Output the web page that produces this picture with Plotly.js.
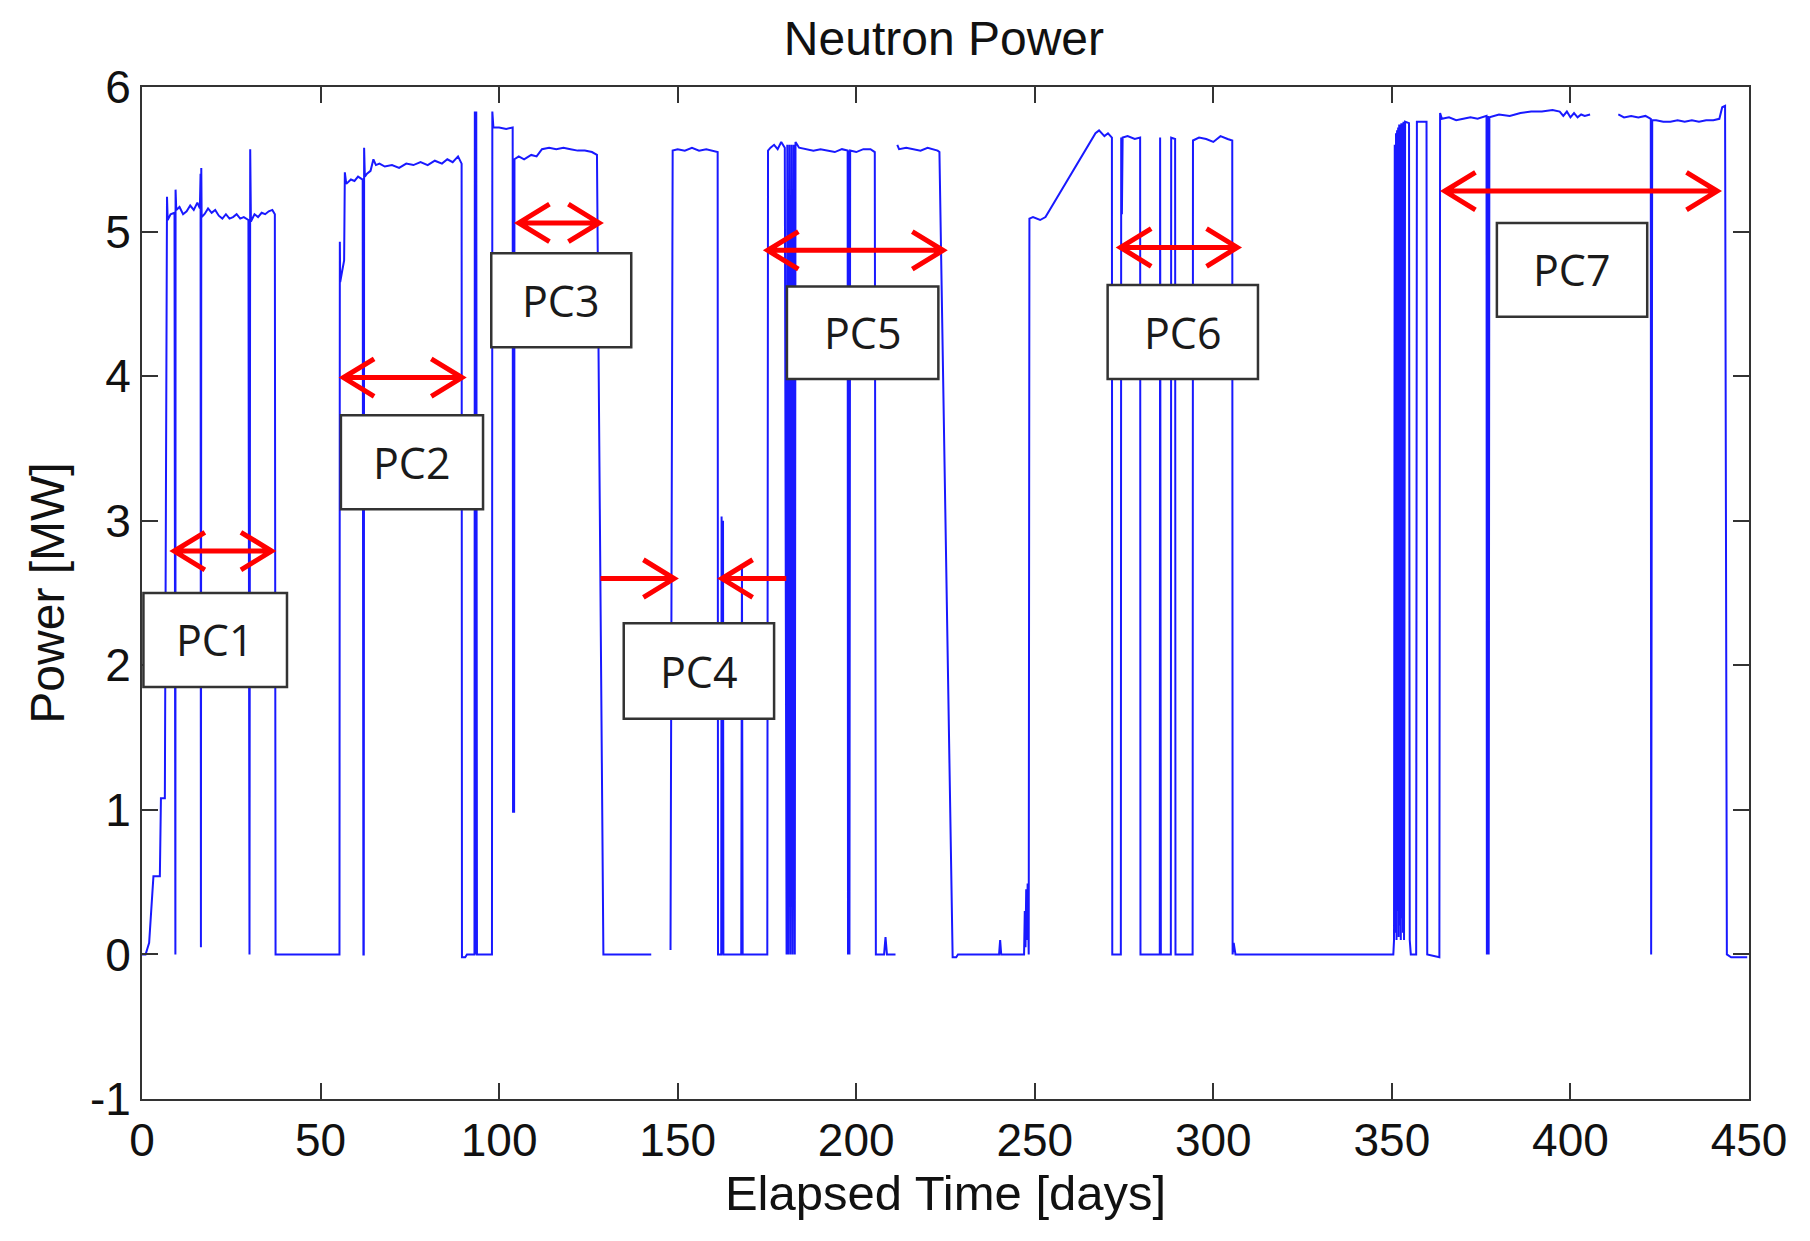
<!DOCTYPE html>
<html>
<head>
<meta charset="utf-8">
<script src="https://cdn.plot.ly/plotly-3.0.1.min.js"></script>
<style>html,body{margin:0;padding:0;background:#fff;}#chart{width:1810px;height:1241px;}</style>
</head>
<body>
<div id="chart"></div>
<script>
// ---- data (days, MW); gaps in the record are separate segments ----
const segADays = [0,1.0,2.0,3.2,5.0,5.3,6.4,6.7,6.8,6.9,7.0,7.2,8.0,9.1,9.2,9.35,9.4,9.6,10.5,11.5,12.5,13.5,14.5,15.5,16.2,16.3,16.4,16.5,16.6,16.7,17.5,18.5,19.5,20.5,21.5,22.5,23.5,24.5,25.5,26.5,27.5,28.5,29.8,30.1,30.3,30.5,31.5,32.5,33.5,34.5,35.5,36.5,37.2,37.4,55.3,55.4,55.5,56.0,56.6,56.8,57.2,58.5,59.5,60.5,61.8,62.0,62.1,62.2,62.4,63.0,64.0,64.8,65.5,66.5,68,70,72,74,76,78,80,82,84,85.5,87,88.5,89.5,89.6,90.5,91,93.1,93.2,93.4,93.6,93.8,98.0,98.1,98.4,100,102,103.8,103.9,104.0,104.2,104.3,105.5,107,109,110.5,112,114,116,118,120,122,124,126,127.4,129.2,142.6];
const segAMW   = [0,0,0.08,0.54,0.54,1.08,1.08,3.6,3.8,3.65,5.24,5.08,5.12,5.13,0,0,5.29,5.15,5.17,5.12,5.14,5.18,5.15,5.2,5.16,0.05,5.4,0.05,5.44,5.1,5.12,5.16,5.13,5.15,5.11,5.09,5.12,5.09,5.1,5.12,5.09,5.1,5.08,0,5.57,5.07,5.12,5.1,5.13,5.12,5.14,5.15,5.12,0,0,4.93,4.65,4.72,4.8,5.41,5.33,5.36,5.35,5.38,5.36,0,0,5.58,5.38,5.4,5.42,5.5,5.46,5.47,5.45,5.46,5.44,5.47,5.46,5.48,5.46,5.49,5.47,5.5,5.48,5.52,5.47,-0.02,-0.02,0,0,5.83,0,5.83,0,0,5.83,5.72,5.72,5.71,5.72,0.98,5.5,0.98,5.5,5.52,5.5,5.53,5.52,5.57,5.58,5.57,5.58,5.57,5.56,5.56,5.55,5.53,0,0];

const segBDays = [148.0,148.6,150,152,154,156,158,160,161.2,161.3,162.2,162.3,162.5,162.7,162.8,167.8,168.0,168.2,175.1,175.3,176,177,178,179,180,180.5,180.7,181,181.3,181.6,181.9,182.2,182.5,182.8,183,184,186,188,190,192,194,196,197.6,197.7,197.9,198.1,198.3,200,202,204,205.2,205.5,207.8,208.2,208.6,211.0];
const segBMW   = [0.03,5.56,5.57,5.56,5.58,5.56,5.57,5.56,5.55,0,0,3.03,0,3.0,0,0,2.7,0,0,5.56,5.58,5.6,5.57,5.62,5.58,0,5.6,0,5.6,0,5.6,0,5.6,0,5.62,5.58,5.57,5.56,5.57,5.56,5.55,5.57,5.56,0,5.56,0,5.56,5.55,5.57,5.57,5.55,0,0,0.12,0,0];

const segCDays = [211.5,212,214,216,218,220,222.8,223.3,227.0,228,228.5,240,240.3,240.6,247.0,247.2,247.4,247.6,247.8,248.0,248.3,248.5,249.5,251.5,253,267,268,269.5,270.5,271.6,271.7,274.1,274.2,274.4,274.6,276,278,279.5,279.6,285.0,285.1,285.3,288.1,288.2,289.3,289.4,294.2,294.3,296,298,300,302,304,305.3,305.4,305.7,306.2];
const segCMW   = [5.6,5.57,5.58,5.57,5.56,5.58,5.56,5.55,-0.02,-0.02,0,0,0.1,0,0,0.3,0.05,0.45,0.1,0.49,0,5.09,5.1,5.08,5.1,5.68,5.7,5.66,5.68,5.65,0,0,5.65,5.12,5.65,5.66,5.64,5.65,0,0,5.65,0,0,5.65,5.64,0,0,5.63,5.65,5.64,5.62,5.66,5.64,5.63,0,0.08,0];

const segC2Days = [350.4,350.6,350.8,351.0,351.15,351.3,351.45,351.6,351.75,351.9,352.05,352.2,352.35,352.5,352.65,352.8,352.95,353.1,353.25,353.4,353.55,353.7,354.8,355.0,355.3,356.8,357.0,359.7,359.9,363.3,363.5,364,366,368,370,372,374,376.5,376.6,376.9,377.1,377.3,380,383,386,389,392,395,397,398,399,400,401,402,403,404,405.5];
const segC2MW   = [0,0.1,5.6,0.15,5.68,0.1,5.7,0.3,5.72,0.12,5.74,0.2,5.74,0.1,5.75,0.25,5.75,0.15,5.76,0.1,5.75,5.76,5.75,0.1,0,0,5.76,5.76,0,-0.02,5.82,5.78,5.79,5.77,5.78,5.79,5.78,5.8,0,5.8,0,5.79,5.81,5.8,5.82,5.83,5.83,5.84,5.83,5.8,5.83,5.79,5.82,5.79,5.81,5.8,5.81];

const segDDays = [413.4,415,417,419,421,422.5,422.6,422.9,424,426,428,430,432,434,436,438,440,441.7,442.5,443.3,443.8,445,448,449.5];
const segDMW   = [5.81,5.79,5.8,5.79,5.8,5.78,0,5.77,5.77,5.76,5.76,5.77,5.76,5.77,5.76,5.77,5.77,5.78,5.86,5.87,0,-0.02,-0.02,-0.02];

// ---- axis ticks ----
const xTicks = [0,50,100,150,200,250,300,350,400,450];
const yTicks = [-1,0,1,2,3,4,5,6];
const yTickText = ['-1','0','1','2','3','4','5','6'];

// ---- annotation boxes and arrows (days, MW) ----
const pcLabels   = ['PC1','PC2','PC3','PC4','PC5','PC6','PC7'];
const boxLeft    = [0.4, 55.7, 97.8, 134.9, 180.6, 270.4, 379.4];
const boxRight   = [40.6, 95.5, 137.0, 177.0, 223.0, 312.5, 421.5];
const boxTop     = [2.50, 3.73, 4.85, 2.29, 4.62, 4.63, 5.06];
const boxBottom  = [1.85, 3.08, 4.20, 1.63, 3.98, 3.98, 4.41];
// double arrows: start, end, level
const arrowFrom  = [9.0, 56.4, 105.5, 175.2, 274.0, 364.8];
const arrowTo    = [36.3, 89.6, 128.0, 224.3, 306.7, 441.1];
const arrowLevel = [2.79, 3.99, 5.06, 4.87, 4.89, 5.28];
// single arrows (PC4): tail, tip, level
const oneTail  = [128.4, 180.4];
const oneTip   = [149.0, 162.4];
const oneLevel = [2.60, 2.60];

const xs = [].concat(segADays, [null], segBDays, [null], segCDays, segC2Days, [null], segDDays);
const ys = [].concat(segAMW,   [null], segBMW,   [null], segCMW,   segC2MW,   [null], segDMW);

const trace = {
  x: xs, y: ys, type: 'scatter', mode: 'lines',
  line: {color: 'rgb(25,25,255)', width: 2},
  connectgaps: false, hoverinfo: 'skip', showlegend: false
};

const HX = 8.6, HY = 0.13; // arrow head size in data units
function head(tipX, y, dir) { // dir: +1 pointing right, -1 pointing left
  const bx = tipX - dir * HX;
  return `M${bx},${y + HY} L${tipX},${y} L${bx},${y - HY}`;
}
const shapes = [];
const red = {color: 'rgb(255,0,0)', width: 5};
for (let i = 0; i < arrowFrom.length; i++) {
  const y = arrowLevel[i];
  shapes.push({type: 'path', xref: 'x', yref: 'y', layer: 'above', line: red,
    path: `M${arrowFrom[i]},${y} L${arrowTo[i]},${y} ` + head(arrowFrom[i], y, -1) + ' ' + head(arrowTo[i], y, 1)});
}
for (let i = 0; i < oneTail.length; i++) {
  const y = oneLevel[i];
  const dir = oneTip[i] > oneTail[i] ? 1 : -1;
  shapes.push({type: 'path', xref: 'x', yref: 'y', layer: 'above', line: red,
    path: `M${oneTail[i]},${y} L${oneTip[i]},${y} ` + head(oneTip[i], y, dir)});
}
const annotations = [];
for (let i = 0; i < pcLabels.length; i++) {
  shapes.push({type: 'rect', xref: 'x', yref: 'y', layer: 'above',
    x0: boxLeft[i], x1: boxRight[i], y0: boxBottom[i], y1: boxTop[i],
    fillcolor: '#ffffff', line: {color: '#333333', width: 2.5}});
  annotations.push({xref: 'x', yref: 'y', x: (boxLeft[i] + boxRight[i]) / 2, y: (boxTop[i] + boxBottom[i]) / 2,
    text: pcLabels[i], showarrow: false, xanchor: 'center', yanchor: 'middle',
    font: {family: 'Open Sans, Noto Sans, sans-serif', size: 43, color: '#1a1a1a'}});
}

const FONT = 'Liberation Sans, Arial, sans-serif';
const axisCommon = {
  showline: true, linecolor: '#333333', linewidth: 2, mirror: 'ticks',
  ticks: 'inside', ticklen: 16, tickwidth: 2, tickcolor: '#333333',
  showgrid: false, zeroline: false,
  tickfont: {family: FONT, size: 46, color: '#111'}
};

const layout = {
  width: 1810, height: 1241,
  margin: {l: 142, r: 61, t: 87, b: 142},
  paper_bgcolor: '#fff', plot_bgcolor: '#fff',
  title: {text: 'Neutron Power', x: 0.5215, xanchor: 'center', y: 1 - 38 / 1241, yanchor: 'middle',
          font: {family: FONT, size: 48, color: '#111'}},
  xaxis: Object.assign({}, axisCommon, {range: [0, 450], tickvals: xTicks,
          title: {text: 'Elapsed Time [days]', standoff: 4, font: {family: FONT, size: 49, color: '#111'}}}),
  yaxis: Object.assign({}, axisCommon, {range: [-1, 6], tickvals: yTicks, ticktext: yTickText,
          title: {text: 'Power [MW]', standoff: 10, font: {family: FONT, size: 48, color: '#111'}}}),
  shapes: shapes, annotations: annotations
};

Plotly.newPlot('chart', [trace], layout, {staticPlot: true, displayModeBar: false});
</script>
</body>
</html>
